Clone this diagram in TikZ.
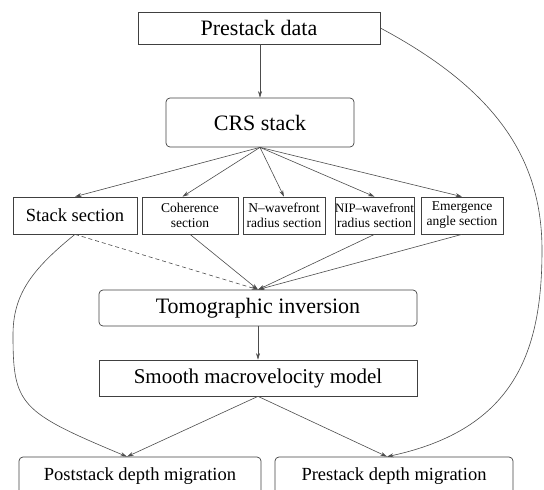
\documentclass[tikz,border=0pt]{standalone}
\usepackage{fontspec}
\setmainfont{Liberation Serif}
\usetikzlibrary{arrows.meta}
\begin{document}
\begin{tikzpicture}[x=1pt,y=-1pt,
  boxsq/.style={draw=black!75, line width=0.7pt, inner sep=0pt, align=center},
  boxrd/.style={boxsq, rounded corners=4pt},
  big/.style={font=\fontsize{22}{24}\selectfont},
  mid/.style={font=\fontsize{18.5}{21}\selectfont},
  small/.style={font=\fontsize{13.5}{15}\selectfont},
  conn/.style={draw=black!70, line width=0.6pt},
  arr/.style={conn, -{Stealth[length=6.5pt,width=4pt]}},
]
\useasboundingbox (0,0) rectangle (544,490);
\clip (0,0) rectangle (544,490);

\node[boxsq,big,minimum width=242pt,minimum height=32pt] (pre) at (259,28) {Prestack data};
\node[boxrd,big,minimum width=188pt,minimum height=49pt] (crs) at (260,122.5) {CRS stack};
\node[boxsq,mid,minimum width=124pt,minimum height=37pt] (stk) at (75,215.5) {Stack section};
\node[boxsq,small,minimum width=96pt,minimum height=37pt] (coh) at (190,215.5) {Coherence\\section};
\node[boxsq,small,minimum width=82pt,minimum height=37pt] (nwf) at (284,215.5) {N--wavefront\\radius section};
\node[boxsq,small,minimum width=79pt,minimum height=37pt] (nip) at (374.5,215.5) {{\fontsize{12.8}{15}\selectfont NIP--wavefront}\\radius section};
\node[boxsq,small,minimum width=82pt,minimum height=37pt] (emg) at (462,215.5) {Emergence\\angle section};
\node[boxrd,big,minimum width=318pt,minimum height=36pt] (tom) at (258,308) {Tomographic inversion};
\node[boxsq,font=\fontsize{21}{24}\selectfont,minimum width=318pt,minimum height=36pt] (smo) at (258,378) {Smooth macrovelocity model};
\node[boxrd,mid,minimum width=242pt,minimum height=38pt] (post) at (140,476) {Poststack depth migration};
\node[boxrd,mid,minimum width=238pt,minimum height=38pt] (pdm) at (394,476) {Prestack depth migration};

\draw[arr] (crs.north |- pre.south) -- (crs.north);
\draw[arr] (crs.south) -- (stk.north);
\draw[arr] (crs.south) -- ([xshift=-7.5pt]coh.north);
\draw[arr] (crs.south) -- (nwf.north);
\draw[arr] (crs.south) -- (nip.north);
\draw[arr] (crs.south) -- (emg.north);
\draw[arr, dash pattern=on 4pt off 3pt] (stk.south) -- (tom.north);
\draw[arr] (coh.south) -- (tom.north);
\draw[arr] (nip.south) -- (tom.north);
\draw[arr] (emg.south) -- (tom.north);
\draw[arr] (tom.south) -- (smo.north);
\draw[arr] (smo.south) -- ([xshift=-13pt]post.north);
\draw[arr] (smo.south) -- ([xshift=-7pt]pdm.north);
\draw[arr] (stk.south) .. controls (31,270) and (13,295) .. (13,335)
  .. controls (13,405) and (20,412) .. ([xshift=-13pt]post.north);
\draw[arr] (pre.east) .. controls (497.5,90.5) and (542,160) .. (542,250)
  .. controls (542,350) and (516,429) .. ([xshift=-7pt]pdm.north);
\end{tikzpicture}
\end{document}
